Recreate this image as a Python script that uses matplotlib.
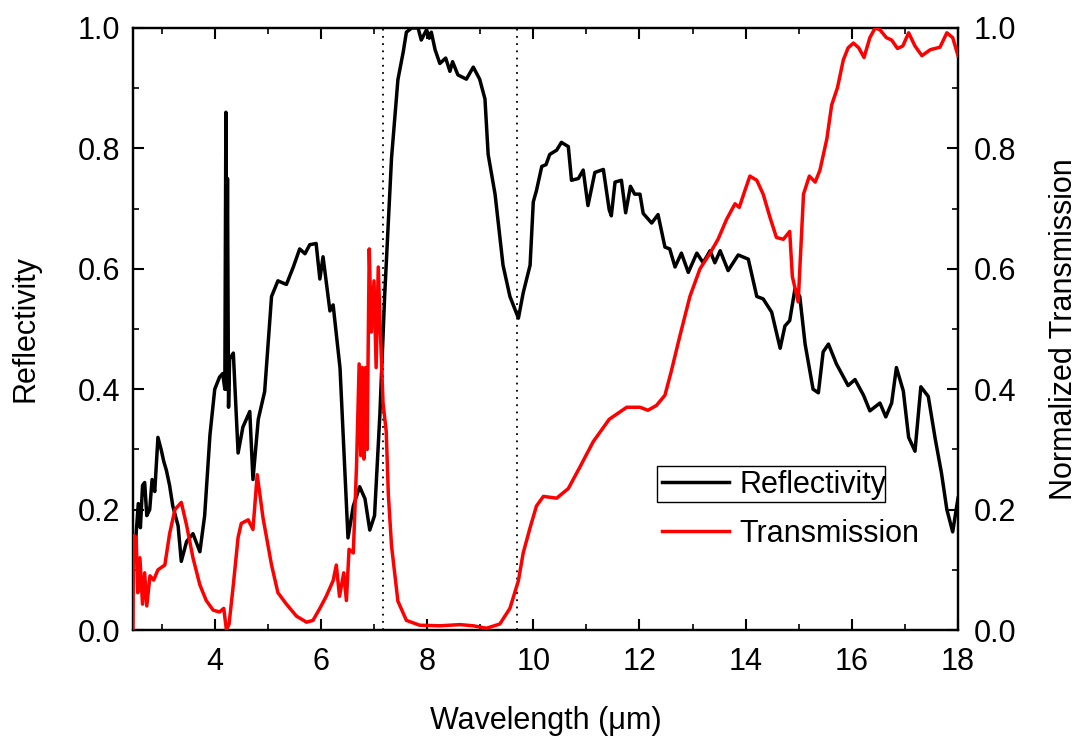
import numpy as np
import matplotlib
matplotlib.use('Agg')
import matplotlib.pyplot as plt
from matplotlib.patches import Rectangle
from matplotlib.ticker import MultipleLocator

plt.rcParams['font.family'] = ['Liberation Sans', 'DejaVu Sans']

# Reflectivity spectrum (left axis)
wl_refl = [2.46, 2.52, 2.56, 2.60, 2.64, 2.68, 2.72, 2.775, 2.82, 2.87, 2.93, 2.99, 3.04, 3.09,
           3.15, 3.21, 3.31, 3.37, 3.47, 3.59, 3.72, 3.81, 3.91, 4.00, 4.09, 4.15, 4.19, 4.21,
           4.22, 4.24, 4.26, 4.28, 4.35, 4.44, 4.53, 4.66, 4.72, 4.82, 4.94, 5.07, 5.19, 5.35,
           5.48, 5.60, 5.70, 5.79, 5.91, 5.98, 6.04, 6.17, 6.23, 6.36, 6.51, 6.61, 6.73, 6.83,
           6.92, 7.01, 7.11, 7.20, 7.33, 7.45, 7.55, 7.61, 7.71, 7.83, 7.89, 7.99, 8.04, 8.08,
           8.15, 8.24, 8.35, 8.43, 8.48, 8.58, 8.74, 8.87, 8.99, 9.09, 9.15, 9.28, 9.43, 9.56,
           9.72, 9.81, 9.94, 10.00, 10.06, 10.16, 10.24, 10.31, 10.44, 10.53, 10.66, 10.72,
           10.85, 10.94, 11.03, 11.16, 11.32, 11.43, 11.47, 11.54, 11.66, 11.74, 11.83, 11.91,
           12.01, 12.07, 12.23, 12.35, 12.48, 12.57, 12.67, 12.79, 12.92, 13.08, 13.20, 13.33,
           13.42, 13.52, 13.67, 13.86, 14.05, 14.21, 14.33, 14.49, 14.65, 14.74, 14.83, 14.93,
           15.02, 15.12, 15.27, 15.37, 15.46, 15.56, 15.71, 15.93, 16.06, 16.22, 16.34, 16.53,
           16.64, 16.75, 16.84, 16.97, 17.07, 17.19, 17.30, 17.44, 17.57, 17.69, 17.79, 17.90,
           18.00]
refl = [0.10, 0.16, 0.21, 0.17, 0.24, 0.245, 0.19, 0.20, 0.25, 0.23, 0.32, 0.30, 0.28, 0.265,
        0.24, 0.206, 0.173, 0.114, 0.147, 0.16, 0.13, 0.19, 0.324, 0.40, 0.42, 0.426, 0.40, 0.86,
        0.40, 0.75, 0.37, 0.45, 0.46, 0.294, 0.337, 0.363, 0.25, 0.35, 0.396, 0.554, 0.58, 0.574,
        0.603, 0.633, 0.625, 0.64, 0.642, 0.583, 0.62, 0.53, 0.54, 0.435, 0.153, 0.206, 0.238,
        0.218, 0.166, 0.19, 0.357, 0.554, 0.784, 0.914, 0.96, 0.993, 1.0, 1.0, 0.98, 0.997,
        0.983, 0.993, 0.964, 0.941, 0.95, 0.928, 0.944, 0.922, 0.915, 0.935, 0.915, 0.882,
        0.79, 0.724, 0.606, 0.554, 0.518, 0.56, 0.606, 0.711, 0.73, 0.77, 0.773, 0.79, 0.797,
        0.81, 0.803, 0.747, 0.75, 0.764, 0.705, 0.76, 0.765, 0.698, 0.688, 0.744, 0.747, 0.693,
        0.737, 0.724, 0.724, 0.692, 0.676, 0.69, 0.636, 0.633, 0.603, 0.626, 0.594, 0.626, 0.61,
        0.63, 0.61, 0.63, 0.597, 0.623, 0.616, 0.554, 0.55, 0.528, 0.468, 0.505, 0.514, 0.567,
        0.554, 0.475, 0.40, 0.394, 0.462, 0.475, 0.442, 0.406, 0.416, 0.39, 0.364, 0.377, 0.354,
        0.377, 0.436, 0.397, 0.32, 0.297, 0.404, 0.388, 0.318, 0.26, 0.20, 0.163, 0.219]

# Normalized transmission spectrum (right axis)
wl_trans = [2.46, 2.47, 2.52, 2.55, 2.59, 2.64, 2.68, 2.72, 2.78, 2.85, 2.93, 3.06, 3.15, 3.25,
            3.37, 3.47, 3.59, 3.72, 3.84, 3.97, 4.09, 4.17, 4.22, 4.27, 4.35, 4.44, 4.50, 4.63,
            4.72, 4.80, 4.91, 5.07, 5.19, 5.35, 5.54, 5.73, 5.85, 5.98, 6.10, 6.23, 6.29, 6.35,
            6.43, 6.48, 6.53, 6.61, 6.67, 6.72, 6.75, 6.78, 6.81, 6.84, 6.87, 6.91, 6.95, 7.00,
            7.04, 7.08, 7.12, 7.17, 7.23, 7.27, 7.33, 7.45, 7.61, 7.86, 8.24, 8.62, 8.87, 9.12,
            9.37, 9.56, 9.72, 9.81, 9.94, 10.06, 10.19, 10.44, 10.66, 10.88, 11.13, 11.43, 11.76,
            12.01, 12.16, 12.32, 12.48, 12.60, 12.76, 12.95, 13.14, 13.33, 13.48, 13.64, 13.80,
            13.88, 13.99, 14.08, 14.21, 14.33, 14.46, 14.58, 14.71, 14.83, 14.88, 14.99, 15.09,
            15.20, 15.31, 15.40, 15.53, 15.62, 15.73, 15.84, 15.93, 16.03, 16.13, 16.23, 16.34,
            16.44, 16.53, 16.65, 16.75, 16.86, 16.96, 17.07, 17.19, 17.32, 17.48, 17.66, 17.79,
            17.90, 18.00]
trans = [0.0, 0.157, 0.154, 0.062, 0.12, 0.043, 0.095, 0.04, 0.09, 0.083, 0.10, 0.108, 0.16,
         0.20, 0.212, 0.174, 0.12, 0.075, 0.049, 0.033, 0.03, 0.036, 0.0, 0.01, 0.075, 0.154,
         0.177, 0.183, 0.167, 0.258, 0.186, 0.108, 0.062, 0.043, 0.023, 0.013, 0.016, 0.036,
         0.056, 0.082, 0.108, 0.056, 0.095, 0.049, 0.134, 0.128, 0.271, 0.442, 0.29, 0.436,
         0.284, 0.436, 0.30, 0.633, 0.495, 0.58, 0.436, 0.603, 0.495, 0.377, 0.33, 0.225, 0.14,
         0.048, 0.016, 0.008, 0.007, 0.009, 0.007, 0.003, 0.01, 0.036, 0.082, 0.128, 0.17,
         0.206, 0.222, 0.219, 0.235, 0.271, 0.313, 0.35, 0.37, 0.37, 0.365, 0.373, 0.39, 0.43,
         0.488, 0.554, 0.60, 0.626, 0.649, 0.682, 0.708, 0.702, 0.731, 0.754, 0.747, 0.724,
         0.685, 0.652, 0.649, 0.662, 0.587, 0.545, 0.724, 0.754, 0.744, 0.764, 0.816, 0.872,
         0.901, 0.947, 0.967, 0.975, 0.967, 0.951, 0.984, 1.0, 0.997, 0.984, 0.98, 0.966, 0.97,
         0.992, 0.97, 0.954, 0.964, 0.968, 0.992, 0.984, 0.954]

# band edges marked with dotted lines
band_edges = [7.17, 9.69]

fs = 22

fig = plt.figure(figsize=(10.82, 7.44), dpi=100)
ax = fig.add_axes([0.1229, 0.1532, 0.7625, 0.8092])
ax2 = ax.twinx()

for xe in band_edges:
    ax.axvline(xe, color='black', ls=(0, (1, 3)), lw=1.3, zorder=1)

l1, = ax.plot(wl_refl, refl, color='black', lw=2.5, label='Reflectivity', zorder=3)
l2, = ax2.plot(wl_trans, trans, color='#ff0000', lw=2.5, label='Transmission', zorder=3)

ax.set_xlim(2.46, 18)
ax.set_ylim(0, 1)
ax2.set_ylim(0, 1)

ax.xaxis.set_major_locator(MultipleLocator(2))
ax.xaxis.set_minor_locator(MultipleLocator(1))
for a in (ax, ax2):
    a.yaxis.set_major_locator(MultipleLocator(0.2))
    a.yaxis.set_minor_locator(MultipleLocator(0.1))
    a.yaxis.set_major_formatter(plt.FormatStrFormatter('%.1f'))
    a.tick_params(which='major', direction='in', length=8, width=1.5, labelsize=fs)
    a.tick_params(which='minor', direction='in', length=4, width=1.2)
    for sp in a.spines.values():
        sp.set_linewidth(1.6)
ax.tick_params(axis='x', which='both', top=True)
ax.tick_params(axis='x', pad=12)
ax.tick_params(axis='y', pad=9)
ax2.tick_params(axis='y', pad=11)

ax.set_xlabel('Wavelength (\u03bcm)', fontsize=fs, labelpad=21)
ax.set_ylabel('Reflectivity', fontsize=fs, labelpad=27)
ax2.set_ylabel('Normalized Transmission', fontsize=fs, labelpad=24)

leg = ax.legend(handles=[l1, l2], loc='upper left', bbox_to_anchor=(0.641, 0.266),
                frameon=False, fontsize=fs, handlelength=2.2, handletextpad=0.33,
                labelspacing=0.62, borderaxespad=0, borderpad=0)
leg.set_zorder(5)
# box drawn round the first legend entry only
ax.add_patch(Rectangle((0.635, 0.2126), 0.2764, 0.0594, transform=ax.transAxes,
                       fill=False, edgecolor='black', lw=1.0, zorder=6))

fig.savefig('out.png', dpi=100)
